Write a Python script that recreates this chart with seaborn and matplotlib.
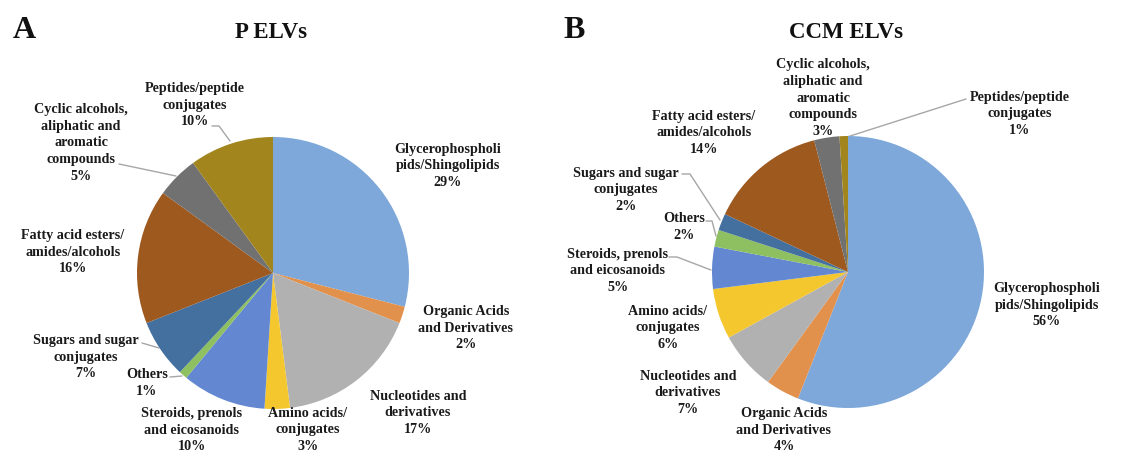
import matplotlib
matplotlib.use("Agg")
import matplotlib.pyplot as plt
import seaborn as sns

# ---------------- data ----------------
categories = [
    "Glycerophospholi\npids/Shingolipids",
    "Organic Acids\nand Derivatives",
    "Nucleotides and\nderivatives",
    "Amino acids/\nconjugates",
    "Steroids, prenols\nand eicosanoids",
    "Others",
    "Sugars and sugar\nconjugates",
    "Fatty acid esters/\namides/alcohols",
    "Cyclic alcohols,\naliphatic and\naromatic\ncompounds",
    "Peptides/peptide\nconjugates",
]
p_elvs = [29, 2, 17, 3, 10, 1, 7, 16, 5, 10]
ccm_elvs = [56, 4, 7, 6, 5, 2, 2, 14, 3, 1]
titles = ["P ELVs", "CCM ELVs"]
panel_letters = ["A", "B"]

colors = ["#7FA8DA", "#E2914C", "#B1B1B1", "#F4C72F", "#6388D1",
          "#8EBF60", "#44709F", "#9E591F", "#717171", "#A3851E"]

# ---------------- layout (pixel units) ----------------
W, H = 1126, 467
R = 136
centers = [(273, 273), (848, 272)]
LINE = 16.7

# label text-block centres (pixel coords, y from top)
label_pos = [
    [(448, 166), (466, 328), (418, 413), (308, 430), (192, 430),
     (147, 383), (86, 357), (73, 252), (81, 143), (195, 105)],
    [(1047, 305), (784, 430), (688, 393), (668, 328), (618, 271),
     (684, 227), (626, 190), (704, 133), (823, 98), (1020, 114)],
]
# leader lines: (panel, slice index, polyline points)
leaders = [
    (0, 9, [(212, 126), (219, 126), (230, 141)]),
    (0, 8, [(119, 164), (176, 176)]),
    (0, 6, [(142, 343), (159, 348)]),
    (0, 5, [(170, 377), (182, 376)]),
    (1, 9, [(966, 99), (847, 137)]),
    (1, 6, [(682, 174), (690, 174), (720, 220)]),
    (1, 5, [(706, 221), (712, 221), (716, 236)]),
    (1, 4, [(669, 257), (677, 257), (711, 270)]),
]

sns.set_theme(style="white")
plt.rcParams["font.family"] = ["Liberation Serif", "DejaVu Serif"]
plt.rcParams["font.weight"] = "bold"

fig = plt.figure(figsize=(W / 100, H / 100), dpi=100)
ax = fig.add_axes([0, 0, 1, 1])
ax.axis("off")

def P(x, y):
    return (x, H - y)

datasets = [p_elvs, ccm_elvs]
for k, vals in enumerate(datasets):
    cx, cy = centers[k]
    ax.pie(vals, colors=colors, startangle=90, counterclock=False,
           center=P(cx, cy), radius=R,
           wedgeprops=dict(linewidth=0, edgecolor="none"))
    for i, (cat, v) in enumerate(zip(categories, vals)):
        lx, ly = label_pos[k][i]
        lines = cat.split("\n") + [f"{v}%"]
        n = len(lines)
        for j, s in enumerate(lines):
            yy = ly + (j - (n - 1) / 2) * LINE
            ax.text(*P(lx, yy), s, ha="center", va="center",
                    fontsize=10.2, fontweight="bold", color="#1a1a1a")

for k, i, pts in leaders:
    xs = [p[0] for p in pts]
    ys = [H - p[1] for p in pts]
    ax.plot(xs, ys, color="#A6A6A6", lw=1.0, zorder=0.5)

ax.set_xlim(0, W)
ax.set_ylim(0, H)
ax.set_aspect("auto")

# titles and panel letters
ax.text(*P(271, 32), titles[0], ha="center", va="center", fontsize=16.5, fontweight="bold", color="#111111")
ax.text(*P(846, 33), titles[1], ha="center", va="center", fontsize=16.5, fontweight="bold", color="#111111")
ax.text(*P(24, 31), panel_letters[0], ha="center", va="center", fontsize=23, fontweight="bold", color="#111111")
ax.text(*P(574, 31), panel_letters[1], ha="center", va="center", fontsize=23, fontweight="bold", color="#111111")

fig.savefig("out.png", dpi=100, facecolor="white")
